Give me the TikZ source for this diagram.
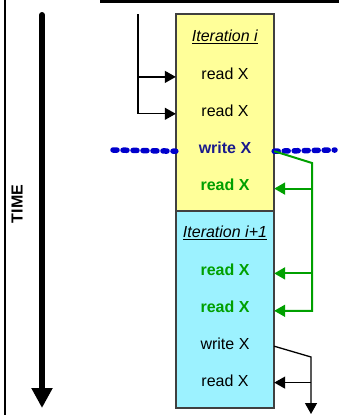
\documentclass[tikz,border=0pt]{standalone}
\usepackage{fontspec}
\setmainfont{Liberation Sans}
\usetikzlibrary{arrows.meta, positioning}
\definecolor{kuning}{HTML}{FFFF99}
\definecolor{biru}{HTML}{9CF2FF}
\definecolor{tulisbiru}{HTML}{1A1A8C}
\definecolor{garisbiru}{HTML}{0000CC}
\definecolor{hijau}{HTML}{00A000}
\tikzset{
  iter/.style={rectangle, draw=black!75, line width=1.4pt, minimum width=98pt,
    minimum height=197pt, inner sep=0pt},
  op/.style={minimum width=98pt, minimum height=36.5pt, inner sep=0pt,
    font=\fontsize{16}{19}\selectfont},
  panah/.style={-{Triangle[length=11pt, width=12pt]}, line width=1.3pt},
  panahhijau/.style={panah, line width=2pt, hijau},
  batas/.style={dash pattern=on 4pt off 6pt, line cap=round, line width=5.5pt, garisbiru}
}

\begin{document}
\begin{tikzpicture}[x=1pt, y=-1pt]
  \useasboundingbox (0,0) rectangle (339,415);
  % frame lines
  \draw[line width=2.5pt] (5,0) -- (5,415);
  \draw[line width=5pt] (100,0.5) -- (339,0.5);

  % time axis
  \coordinate (t0) at (42,15);
  \coordinate (t1) at (42,408);
  \draw[line width=6pt, line cap=round, -{Triangle[length=20pt, width=20pt]}] (t0) -- (t1);
  \node[rotate=90, font=\bfseries\fontsize{16}{19}\selectfont] (waktu) at (17,204) {TIME};

  % the two iterations
  \node[iter, fill=kuning] (it1) at (225,112.5) {};
  \node[iter, fill=biru] (it2) at (225,309.5) {};

  \node[op] (a1) at (225,37) {\underline{\textit{Iteration i}}};
  \node[op, below=0pt of a1] (a2) {read X};
  \node[op, below=0pt of a2] (a3) {read X};
  \node[op, below=0pt of a3] (a4) {\textcolor{tulisbiru}{\textbf{write X}}};
  \node[op, below=0pt of a4] (a5) {\textcolor{hijau}{\textbf{read X}}};

  \node[op] (b1) at (225,233) {\underline{\textit{Iteration i+1}}};
  \node[op, below=0pt of b1] (b2) {\textcolor{hijau}{\textbf{read X}}};
  \node[op, below=0pt of b2] (b3) {\textcolor{hijau}{\textbf{read X}}};
  \node[op, below=0pt of b3] (b4) {write X};
  \node[op, below=0pt of b4] (b5) {read X};

  % incoming reads
  \coordinate (k0) at (138,14);
  \coordinate (k1) at ([yshift=-3pt]a2.west);
  \coordinate (k2) at ([yshift=-3pt]a3.west);
  \draw[panah] (k0) |- (k2);
  \draw[panah] (k1 -| k0) -- (k1);

  % dotted border at the write
  \coordinate (dl) at (113,150);
  \coordinate (dr) at (335,150);
  \draw[batas] (dl) -- ([yshift=-3.5pt]a4.west);
  \draw[batas] ([yshift=-3.5pt]a4.east) -- (dr);

  % write X feeds later reads
  \coordinate (g1) at (312,163);
  \coordinate (g2) at ([yshift=-4pt]a5.east);
  \coordinate (g3) at ([yshift=-3.5pt]b2.east);
  \draw[panahhijau] ([yshift=-3.5pt]a4.east) -- (g1) |- ([yshift=-4pt]b3.east);
  \draw[panahhijau] (g2 -| g1) -- (g2);
  \draw[panahhijau] (g3 -| g1) -- (g3);

  % second write
  \coordinate (h1) at (311,357);
  \coordinate (h2) at (311,414);
  \coordinate (h3) at ([yshift=-2pt]b5.east);
  \draw[panah] ([yshift=-2.5pt]b4.east) -- (h1) -- (h2);
  \draw[panah] (h3 -| h1) -- (h3);
\end{tikzpicture}
\end{document}
